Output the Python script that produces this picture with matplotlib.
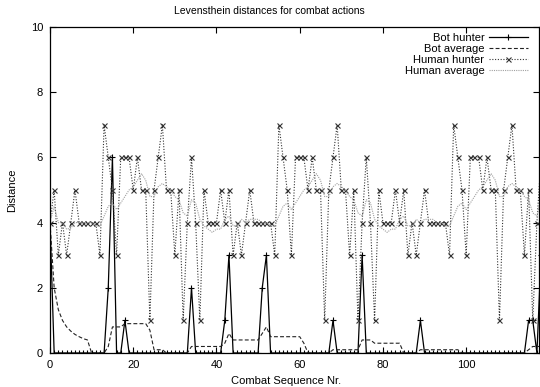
import matplotlib
matplotlib.use('Agg')
import matplotlib.pyplot as plt

# values, one per combat sequence (0..118)
bot_hunter = [4, 0, 0, 0, 0, 0, 0, 0, 0, 0,
              0, 0, 0, 0, 2, 6, 0, 0, 1, 0,
              0, 0, 0, 0, 0, 0, 0, 0, 0, 0,
              0, 0, 0, 0, 2, 0, 0, 0, 0, 0,
              0, 0, 1, 3, 0, 0, 0, 0, 0, 0,
              0, 2, 3, 0, 0, 0, 0, 0, 0, 0,
              0, 0, 0, 0, 0, 0, 0, 0, 1, 0,
              0, 0, 0, 0, 0, 3, 0, 0, 0, 0,
              0, 0, 0, 0, 0, 0, 0, 0, 0, 1,
              0, 0, 0, 0, 0, 0, 0, 0, 0, 0,
              0, 0, 0, 0, 0, 0, 0, 0, 0, 0,
              0, 0, 0, 0, 0, 1, 1, 0, 3]

bot_average = [4.0, 2.0, 1.33, 1.0, 0.8, 0.67, 0.57, 0.5, 0.44, 0.4,
               0, 0, 0, 0, 0.2, 0.8, 0.8, 0.8, 0.9, 0.9,
               0.9, 0.9, 0.9, 0.9, 0.7, 0.1, 0.1, 0.1, 0, 0,
               0, 0, 0, 0, 0.2, 0.2, 0.2, 0.2, 0.2, 0.2,
               0.2, 0.2, 0.3, 0.6, 0.4, 0.4, 0.4, 0.4, 0.4, 0.4,
               0.4, 0.6, 0.8, 0.5, 0.5, 0.5, 0.5, 0.5, 0.5, 0.5,
               0.5, 0.3, 0, 0, 0, 0, 0, 0, 0.1, 0.1,
               0.1, 0.1, 0.1, 0.1, 0.1, 0.4, 0.4, 0.4, 0.3, 0.3,
               0.3, 0.3, 0.3, 0.3, 0.3, 0, 0, 0, 0, 0.1,
               0.1, 0.1, 0.1, 0.1, 0.1, 0.1, 0.1, 0.1, 0.1, 0,
               0, 0, 0, 0, 0, 0, 0, 0, 0, 0,
               0, 0, 0, 0, 0, 0.1, 0.2, 0.2, 0.2]

human_hunter = [4, 5, 3, 4, 3, 4, 5, 4, 4, 4,
                4, 4, 3, 7, 6, 5, 3, 6, 6, 6,
                5, 6, 5, 5, 1, 5, 6, 7, 5, 5,
                3, 5, 1, 4, 6, 4, 1, 5, 4, 4,
                4, 5, 4, 5, 3, 4, 3, 4, 5, 4,
                4, 4, 4, 4, 3, 7, 6, 5, 3, 6,
                6, 6, 5, 6, 5, 5, 1, 5, 6, 7,
                5, 5, 3, 5, 1, 4, 6, 4, 1, 5,
                4, 4, 4, 5, 4, 5, 3, 4, 3, 4,
                5, 4, 4, 4, 4, 4, 3, 7, 6, 5,
                3, 6, 6, 6, 5, 6, 5, 5, 1, 5,
                6, 7, 5, 5, 3, 5, 1, 4, 6]

human_average = [4.0, 4.5, 4.0, 4.0, 3.8, 3.83, 4.0, 4.0, 4.0, 4.0,
                 4.0, 3.9, 3.9, 4.2, 4.5, 4.6, 4.4, 4.6, 4.8, 5.0,
                 5.1, 5.3, 5.5, 5.3, 4.8, 4.8, 5.1, 5.2, 5.1, 5.0,
                 4.8, 4.7, 4.3, 4.2, 4.7, 4.6, 4.1, 3.9, 3.8, 3.7,
                 3.8, 3.8, 4.1, 4.2, 3.9, 3.9, 4.1, 4.0, 4.1, 4.1,
                 4.1, 4.0, 4.0, 3.9, 3.9, 4.2, 4.5, 4.6, 4.4, 4.6,
                 4.8, 5.0, 5.1, 5.3, 5.5, 5.3, 4.8, 4.8, 5.1, 5.2,
                 5.1, 5.0, 4.8, 4.7, 4.3, 4.2, 4.7, 4.6, 4.1, 3.9,
                 3.8, 3.7, 3.8, 3.8, 4.1, 4.2, 3.9, 3.9, 4.1, 4.0,
                 4.1, 4.1, 4.1, 4.0, 4.0, 3.9, 3.9, 4.2, 4.5, 4.6,
                 4.4, 4.6, 4.8, 5.0, 5.1, 5.3, 5.5, 5.3, 4.8, 4.8,
                 5.1, 5.2, 5.1, 5.0, 4.8, 4.7, 4.3, 4.2, 4.7]

x_ticks = [0, 20, 40, 60, 80, 100]
y_ticks = [0, 2, 4, 6, 8, 10]

plt.rcParams['font.family'] = ['Liberation Sans', 'DejaVu Sans']
plt.rcParams['font.size'] = 7.5

x = list(range(len(human_hunter)))

fig = plt.figure(figsize=(5.4, 3.87), dpi=100)
ax = fig.add_axes([50/540, 34/387, 489/540, 326/387])

ax.plot(x, bot_hunter, color='black', lw=0.9, marker='+', ms=5, mew=0.8, label='Bot hunter')
ax.plot(x, bot_average, color='#222222', lw=0.8, dashes=(3.5, 2), label='Bot average')
ax.plot(x, human_hunter, color='#333333', lw=0.8, dashes=(1, 1.5), marker='x', ms=3.6, mew=0.8,
        label='Human hunter')
ax.plot(x, human_average, color='#a0a0a0', lw=0.8, dashes=(1, 1), label='Human average')

ax.set_xlim(0, 117.5)
ax.set_ylim(0, 10)
ax.set_xticks(x_ticks)
ax.set_yticks(y_ticks)
ax.tick_params(direction='in', top=True, right=True, length=4, width=0.8, pad=5, labelsize=8)
for s in ax.spines.values():
    s.set_linewidth(0.9)

ax.legend(loc='upper right', bbox_to_anchor=(0.995, 1.01), frameon=False, markerfirst=False,
          handlelength=3.5, handletextpad=0.4, labelspacing=0.1, borderpad=0.3, fontsize=8)

fig.text(269/540, 1 - 11/387, 'Levensthein distances for combat actions', ha='center', va='center')
fig.text(286/540, 1 - 381/387, 'Combat Sequence Nr.', ha='center', va='center', fontsize=8)
fig.text(12/540, 1 - 190/387, 'Distance', rotation=90, ha='center', va='center', fontsize=8)

fig.savefig('out.png', dpi=100)
